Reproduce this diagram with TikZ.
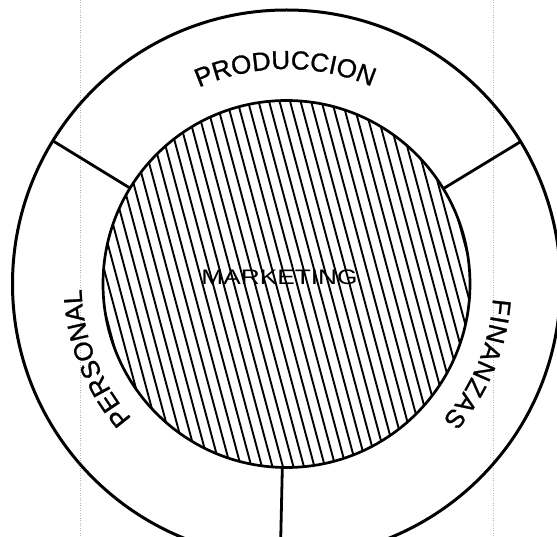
\documentclass[tikz,border=0pt]{standalone}
\usepackage{fontspec}
\usepackage{graphicx}
\setmainfont{Liberation Sans}
\newfontfamily\labelfamily[FakeBold=1]{Liberation Sans}
\usetikzlibrary{decorations.text}
\newcommand\arclabelfont{\labelfamily\fontsize{26}{26}\selectfont}
\begin{document}
\begin{tikzpicture}[x=1pt,y=1pt,
  ring/.style={line width=3pt},
  innerring/.style={line width=2.7pt},
  hatchline/.style={line width=1.9pt},
  divider/.style={line width=2.8pt},
  guide/.style={gray!55, line width=0.6pt, dash pattern=on 1pt off 1.5pt},
  arclabel/.style={font=\arclabelfont, decorate, decoration={text along path, text align=fit to path}}]
\useasboundingbox (0,0) rectangle (557,536);
\clip (0,0) rectangle (557,536);
\draw[guide] (80,0) -- (80,536);
\draw[guide] (493,0) -- (493,536);
\begin{scope}[shift={(286.5,252)}]
  \coordinate (C) at (0,0);
  \draw[ring] (C) circle[radius=274];
  \begin{scope}
    \clip (C) circle[radius=183.5];
    \foreach \i in {-24,...,24}
      \draw[hatchline] (\i*10.5,0) ++(-75:-230) -- ++(-75:460);
  \end{scope}
  \draw[innerring] (C) circle[radius=183.5];
  \foreach \a in {148.5,31.3,268.7}
    \draw[divider] (\a:183.5) -- (\a:274);
  \path[arclabel, decoration={text={|\arclabelfont|PRODUCCION}}]
    (114:215) arc[start angle=114, end angle=67, radius=215];
  \path[arclabel, decoration={text={|\arclabelfont|PERSONAL}}]
    (221:205) arc[start angle=221, end angle=183, radius=205];
  \path[arclabel, decoration={text={|\arclabelfont|FINANZAS}}]
    (-4:207) arc[start angle=-4, end angle=-41, radius=207];
  \node (mk) at (-7,6.5) {\scalebox{1.25}[1]{\fontsize{21}{21}\selectfont MARKETING}};
\end{scope}
\end{tikzpicture}
\end{document}
